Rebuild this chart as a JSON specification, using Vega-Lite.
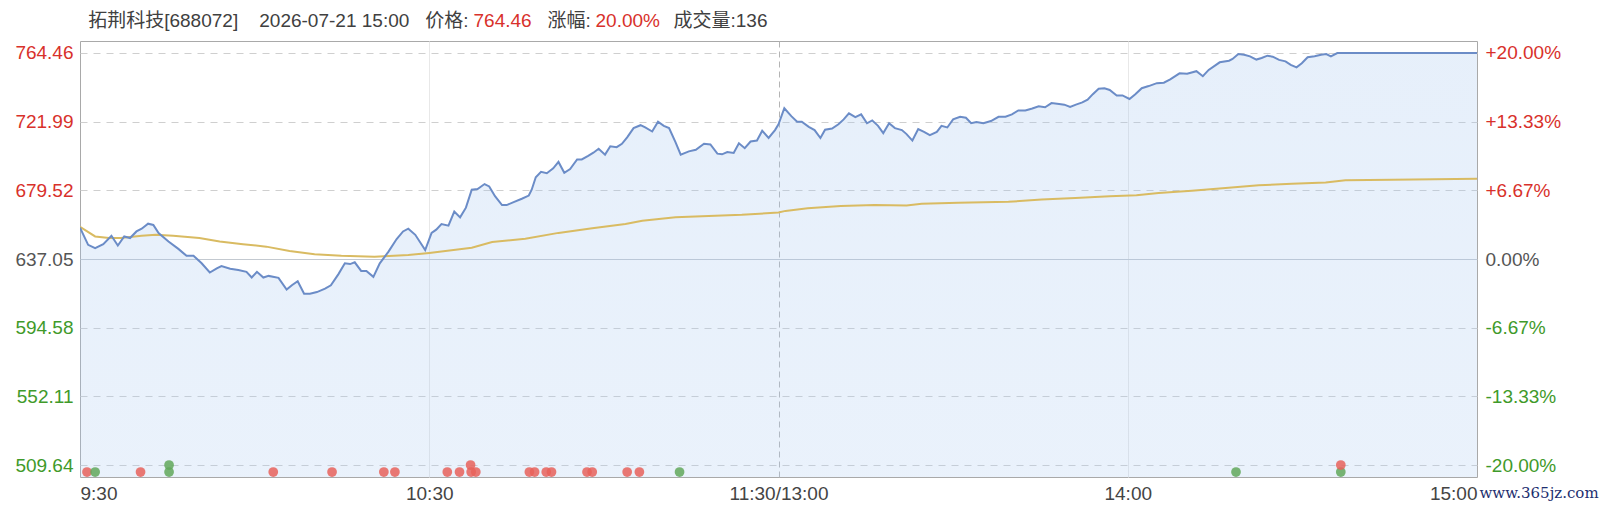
{
  "$schema": "https://vega.github.io/schema/vega-lite/v6.json",
  "width": 1397,
  "height": 436,
  "autosize": {"type": "none"},
  "padding": {"left": 80, "top": 41, "right": 123, "bottom": 35},
  "background": "white",
  "config": {
    "view": {"stroke": "#a9a9a9", "strokeWidth": 1},
    "axis": {
      "domain": false,
      "ticks": false,
      "labelFont": "Liberation Sans",
      "labelFontSize": 19,
      "titleFont": "Liberation Sans, Noto Sans CJK SC",
      "titleFontSize": 19,
      "titleFontWeight": "normal"
    }
  },
  "datasets": {
    "price": [
      {"t": 0, "p": 656.5}, {"t": 1.4, "p": 645.8}, {"t": 2.6, "p": 643.7}, {"t": 4.0, "p": 646.2},
      {"t": 5.4, "p": 651.4}, {"t": 6.5, "p": 645.4}, {"t": 7.6, "p": 651.0}, {"t": 8.6, "p": 650.0},
      {"t": 9.7, "p": 654.1}, {"t": 10.6, "p": 655.8}, {"t": 11.7, "p": 658.9}, {"t": 12.6, "p": 658.1},
      {"t": 13.5, "p": 653.1}, {"t": 15.2, "p": 647.9}, {"t": 16.9, "p": 643.3}, {"t": 18.3, "p": 639.0},
      {"t": 19.5, "p": 639.1}, {"t": 20.9, "p": 634.4}, {"t": 22.3, "p": 628.7}, {"t": 23.5, "p": 631.2},
      {"t": 24.3, "p": 632.7}, {"t": 25.8, "p": 631.0}, {"t": 27.2, "p": 630.2}, {"t": 28.6, "p": 629.1},
      {"t": 29.5, "p": 625.6}, {"t": 30.4, "p": 629.1}, {"t": 31.5, "p": 625.6}, {"t": 32.4, "p": 626.6},
      {"t": 34.1, "p": 625.4}, {"t": 35.5, "p": 618.1}, {"t": 36.4, "p": 620.8}, {"t": 37.4, "p": 623.3},
      {"t": 38.5, "p": 615.6}, {"t": 39.5, "p": 615.6}, {"t": 40.7, "p": 616.6}, {"t": 42.1, "p": 618.7},
      {"t": 43.1, "p": 620.8}, {"t": 44.4, "p": 627.7}, {"t": 45.5, "p": 634.4}, {"t": 46.4, "p": 633.9},
      {"t": 47.2, "p": 635.0}, {"t": 48.3, "p": 629.7}, {"t": 49.2, "p": 629.7}, {"t": 50.4, "p": 626.0},
      {"t": 51.5, "p": 634.4}, {"t": 53.0, "p": 641.6}, {"t": 54.4, "p": 649.4}, {"t": 55.5, "p": 654.1},
      {"t": 56.4, "p": 655.8}, {"t": 57.6, "p": 652.0}, {"t": 59.3, "p": 642.6}, {"t": 60.4, "p": 653.2},
      {"t": 61.2, "p": 655.2}, {"t": 62.1, "p": 658.7}, {"t": 63.3, "p": 657.7}, {"t": 64.3, "p": 666.4},
      {"t": 65.3, "p": 662.8}, {"t": 66.3, "p": 668.8}, {"t": 67.3, "p": 679.9}, {"t": 68.3, "p": 680.3},
      {"t": 69.5, "p": 683.4}, {"t": 70.3, "p": 681.9}, {"t": 71.3, "p": 675.9}, {"t": 72.5, "p": 670.4},
      {"t": 73.3, "p": 670.4}, {"t": 74.5, "p": 672.2}, {"t": 75.9, "p": 674.3}, {"t": 77.1, "p": 676.3},
      {"t": 77.6, "p": 679.9}, {"t": 78.3, "p": 687.6}, {"t": 79.2, "p": 691.0}, {"t": 80.2, "p": 690.1},
      {"t": 81.3, "p": 693.1}, {"t": 82.2, "p": 697.1}, {"t": 83.2, "p": 690.4}, {"t": 84.2, "p": 692.7},
      {"t": 85.4, "p": 698.6}, {"t": 86.2, "p": 698.6}, {"t": 87.3, "p": 700.8}, {"t": 88.2, "p": 702.8},
      {"t": 89.1, "p": 705.2}, {"t": 90.2, "p": 701.6}, {"t": 91.1, "p": 706.8}, {"t": 92.2, "p": 706.2},
      {"t": 93.1, "p": 708.3}, {"t": 94.0, "p": 712.3}, {"t": 95.1, "p": 718.0}, {"t": 96.3, "p": 719.8},
      {"t": 97.1, "p": 718.4}, {"t": 98.3, "p": 715.9}, {"t": 99.3, "p": 722.0}, {"t": 100.3, "p": 719.4},
      {"t": 101.2, "p": 718.0}, {"t": 102.3, "p": 709.3}, {"t": 103.2, "p": 701.6}, {"t": 104.6, "p": 703.6},
      {"t": 105.8, "p": 704.6}, {"t": 107.2, "p": 708.3}, {"t": 108.3, "p": 707.9}, {"t": 109.5, "p": 702.2},
      {"t": 110.3, "p": 701.8}, {"t": 111.2, "p": 703.2}, {"t": 112.3, "p": 702.6}, {"t": 113.2, "p": 708.6},
      {"t": 114.2, "p": 705.6}, {"t": 115.2, "p": 709.7}, {"t": 116.3, "p": 710.3}, {"t": 117.2, "p": 716.4},
      {"t": 118.3, "p": 711.9}, {"t": 119.4, "p": 716.8}, {"t": 120.0, "p": 720.4}, {"t": 121.0, "p": 730.3},
      {"t": 122.2, "p": 725.4}, {"t": 123.2, "p": 722.0}, {"t": 124.0, "p": 722.0}, {"t": 125.2, "p": 718.8},
      {"t": 126.2, "p": 716.8}, {"t": 127.2, "p": 711.9}, {"t": 128.0, "p": 717.0}, {"t": 129.2, "p": 717.7},
      {"t": 130.3, "p": 720.4}, {"t": 131.2, "p": 723.4}, {"t": 132.1, "p": 727.1}, {"t": 133.2, "p": 724.8},
      {"t": 134.2, "p": 726.5}, {"t": 135.2, "p": 721.0}, {"t": 136.1, "p": 722.8}, {"t": 137.1, "p": 719.4},
      {"t": 138.0, "p": 714.9}, {"t": 139.0, "p": 721.0}, {"t": 140.0, "p": 718.0}, {"t": 141.2, "p": 716.8},
      {"t": 142.0, "p": 714.3}, {"t": 143.0, "p": 710.3}, {"t": 144.0, "p": 717.4}, {"t": 145.0, "p": 715.7},
      {"t": 146.0, "p": 713.7}, {"t": 147.2, "p": 715.7}, {"t": 148.0, "p": 719.4}, {"t": 149.0, "p": 718.4},
      {"t": 150.0, "p": 723.4}, {"t": 151.2, "p": 725.0}, {"t": 152.2, "p": 724.4}, {"t": 153.1, "p": 721.0},
      {"t": 154.0, "p": 721.8}, {"t": 155.2, "p": 721.0}, {"t": 156.5, "p": 722.4}, {"t": 157.8, "p": 725.0},
      {"t": 159.0, "p": 725.0}, {"t": 160.1, "p": 726.5}, {"t": 161.2, "p": 728.9}, {"t": 162.4, "p": 728.9},
      {"t": 163.6, "p": 730.1}, {"t": 164.7, "p": 731.5}, {"t": 165.8, "p": 730.9}, {"t": 166.9, "p": 733.5},
      {"t": 168.2, "p": 732.9}, {"t": 169.1, "p": 732.5}, {"t": 170.1, "p": 731.1}, {"t": 171.1, "p": 732.5},
      {"t": 172.2, "p": 733.9}, {"t": 173.1, "p": 735.6}, {"t": 174.0, "p": 739.0}, {"t": 175.0, "p": 742.3},
      {"t": 176.0, "p": 742.6}, {"t": 176.9, "p": 741.6}, {"t": 178.1, "p": 738.2}, {"t": 179.1, "p": 738.2},
      {"t": 180.3, "p": 736.0}, {"t": 181.3, "p": 738.9}, {"t": 182.4, "p": 742.7}, {"t": 183.6, "p": 744.0},
      {"t": 185.0, "p": 745.8}, {"t": 186.2, "p": 746.1}, {"t": 187.3, "p": 748.1}, {"t": 188.9, "p": 751.9},
      {"t": 190.2, "p": 751.6}, {"t": 191.8, "p": 753.2}, {"t": 192.9, "p": 750.1}, {"t": 193.9, "p": 754.0},
      {"t": 195.8, "p": 758.7}, {"t": 197.4, "p": 759.7}, {"t": 198.0, "p": 760.8}, {"t": 199.0, "p": 763.8},
      {"t": 200.0, "p": 763.4}, {"t": 201.0, "p": 762.4}, {"t": 202.1, "p": 760.4}, {"t": 203.0, "p": 761.4},
      {"t": 204.0, "p": 762.8}, {"t": 204.9, "p": 762.2}, {"t": 206.0, "p": 760.2}, {"t": 207.1, "p": 759.3},
      {"t": 208.0, "p": 757.1}, {"t": 209.0, "p": 755.6}, {"t": 209.9, "p": 758.1}, {"t": 210.9, "p": 761.8},
      {"t": 212.1, "p": 762.4}, {"t": 213.2, "p": 763.4}, {"t": 214.1, "p": 763.8}, {"t": 214.9, "p": 762.4},
      {"t": 216.0, "p": 764.46}, {"t": 220.0, "p": 764.46}, {"t": 225.0, "p": 764.46}, {"t": 230.0, "p": 764.46},
      {"t": 235.0, "p": 764.46}, {"t": 240.0, "p": 764.46}
    ],
    "avg": [
      {"t": 0, "p": 657.0}, {"t": 2.6, "p": 651.0}, {"t": 5.0, "p": 650.0}, {"t": 7.0, "p": 650.0},
      {"t": 10.6, "p": 651.4}, {"t": 13.0, "p": 652.0}, {"t": 16.0, "p": 651.4}, {"t": 20.5, "p": 650.0},
      {"t": 24.0, "p": 647.9}, {"t": 28.0, "p": 646.2}, {"t": 32.0, "p": 644.7}, {"t": 36.0, "p": 642.0},
      {"t": 40.3, "p": 640.0}, {"t": 44.9, "p": 639.0}, {"t": 50.6, "p": 638.5}, {"t": 56.4, "p": 639.5},
      {"t": 60.0, "p": 640.8}, {"t": 67.3, "p": 644.0}, {"t": 70.8, "p": 647.6}, {"t": 76.5, "p": 649.6},
      {"t": 82.2, "p": 653.2}, {"t": 88.0, "p": 656.1}, {"t": 93.7, "p": 658.7}, {"t": 96.6, "p": 660.7},
      {"t": 102.3, "p": 662.8}, {"t": 108.0, "p": 663.7}, {"t": 113.7, "p": 664.4}, {"t": 120.0, "p": 665.8},
      {"t": 121.2, "p": 666.8}, {"t": 125.0, "p": 668.4}, {"t": 130.7, "p": 669.8}, {"t": 136.5, "p": 670.4},
      {"t": 142.0, "p": 670.2}, {"t": 144.6, "p": 671.2}, {"t": 150.9, "p": 671.8}, {"t": 159.5, "p": 672.4},
      {"t": 165.2, "p": 673.8}, {"t": 171.0, "p": 674.8}, {"t": 176.9, "p": 675.8}, {"t": 181.5, "p": 676.5},
      {"t": 185.3, "p": 677.9}, {"t": 191.0, "p": 679.3}, {"t": 196.8, "p": 680.9}, {"t": 202.5, "p": 682.6},
      {"t": 208.2, "p": 683.6}, {"t": 214.0, "p": 684.4}, {"t": 217.4, "p": 685.7}, {"t": 225.4, "p": 686.1},
      {"t": 240.0, "p": 686.7}
    ],
    "trades": [
      {"t": 1.2, "lvl": 505.3, "side": "buy"},
      {"t": 2.6, "lvl": 505.3, "side": "sell"},
      {"t": 10.4, "lvl": 505.3, "side": "buy"},
      {"t": 15.3, "lvl": 509.64, "side": "sell"},
      {"t": 15.3, "lvl": 505.3, "side": "sell"},
      {"t": 33.2, "lvl": 505.3, "side": "buy"},
      {"t": 43.3, "lvl": 505.3, "side": "buy"},
      {"t": 52.2, "lvl": 505.3, "side": "buy"},
      {"t": 54.1, "lvl": 505.3, "side": "buy"},
      {"t": 63.1, "lvl": 505.3, "side": "buy"},
      {"t": 65.2, "lvl": 505.3, "side": "buy"},
      {"t": 67.1, "lvl": 509.64, "side": "buy"},
      {"t": 67.2, "lvl": 505.3, "side": "buy"},
      {"t": 68.0, "lvl": 505.3, "side": "buy"},
      {"t": 77.2, "lvl": 505.3, "side": "buy"},
      {"t": 78.1, "lvl": 505.3, "side": "buy"},
      {"t": 80.1, "lvl": 505.3, "side": "buy"},
      {"t": 81.0, "lvl": 505.3, "side": "buy"},
      {"t": 87.1, "lvl": 505.3, "side": "buy"},
      {"t": 88.0, "lvl": 505.3, "side": "buy"},
      {"t": 94.0, "lvl": 505.3, "side": "buy"},
      {"t": 96.1, "lvl": 505.3, "side": "buy"},
      {"t": 103.0, "lvl": 505.3, "side": "sell"},
      {"t": 198.6, "lvl": 505.3, "side": "sell"},
      {"t": 216.6, "lvl": 505.3, "side": "sell"},
      {"t": 216.6, "lvl": 509.64, "side": "buy"}
    ]
  },
  "resolve": {"axis": {"x": "independent", "y": "independent"}},
  "layer": [
    {
      "data": {"name": "price"},
      "mark": {
        "type": "area",
        "clip": true,
        "color": {
          "gradient": "linear",
          "x1": 0, "y1": 0, "x2": 0, "y2": 1,
          "stops": [
            {"offset": 0, "color": "rgba(160,195,238,0.26)"},
            {"offset": 1, "color": "rgba(185,212,245,0.22)"}
          ]
        }
      },
      "encoding": {
        "x": {
          "field": "t",
          "type": "quantitative",
          "scale": {"domain": [0, 240], "nice": false, "zero": false},
          "axis": {
            "orient": "bottom",
            "values": [0, 60, 120, 180, 240],
            "labelExpr": "datum.value == 0 ? '9:30' : datum.value == 60 ? '10:30' : datum.value == 120 ? '11:30/13:00' : datum.value == 180 ? '14:00' : '15:00'",
            "labelFlush": true,
            "labelOverlap": false,
            "labelPadding": 7,
            "labelColor": "#444444",
            "grid": true,
            "gridColor": {
              "condition": [
                {"test": "datum.value == 120", "value": "#b4b4b4"},
                {"test": "datum.value == 0 || datum.value == 240", "value": "rgba(0,0,0,0)"}
              ],
              "value": "#e8e8e8"
            },
            "gridDash": {"condition": {"test": "datum.value == 120", "value": [6, 4]}, "value": []},
            "title": "www.365jz.com",
            "titleX": 1399,
            "titleY": 15,
            "titleAngle": 0,
            "titleAlign": "left",
            "titleBaseline": "middle",
            "titleFont": "DejaVu Serif",
            "titleFontSize": 15,
            "titleColor": "#1d2f6f"
          }
        },
        "y": {
          "field": "p",
          "type": "quantitative",
          "scale": {"domain": [502.22, 771.88], "nice": false, "zero": false},
          "axis": {
            "orient": "left",
            "values": [509.64, 552.11, 594.58, 637.05, 679.52, 721.99, 764.46],
            "format": ".2f",
            "labelPadding": 7,
            "labelColor": {
              "condition": [
                {"test": "datum.value > 637.06", "value": "#d8312b"},
                {"test": "datum.value < 637.04", "value": "#3f9a2a"}
              ],
              "value": "#555555"
            },
            "grid": true,
            "gridColor": {"condition": {"test": "datum.value == 637.05", "value": "#c3c9d0"}, "value": "#cfcfcf"},
            "gridDash": {"condition": {"test": "datum.value == 637.05", "value": []}, "value": [7, 6]},
            "title": "拓荆科技[688072]\u00a0\u00a0\u00a0\u00a02026-07-21 15:00\u00a0\u00a0\u00a0价格:",
            "titleX": 7.7,
            "titleY": -20.3,
            "titleAngle": 0,
            "titleAlign": "left",
            "titleBaseline": "middle",
            "titleColor": "#404040"
          }
        }
      }
    },
    {
      "data": {"name": "avg"},
      "mark": {"type": "line", "color": "#d9bb62", "strokeWidth": 2, "clip": true},
      "encoding": {
        "x": {"field": "t", "type": "quantitative", "scale": {"domain": [0, 240], "nice": false, "zero": false}, "axis": null},
        "y": {
          "field": "p",
          "type": "quantitative",
          "scale": {"domain": [502.22, 771.88], "nice": false, "zero": false},
          "axis": {
            "orient": "right",
            "values": [509.64, 552.11, 594.58, 637.05, 679.52, 721.99, 764.46],
            "labelExpr": "(datum.value > 637.06 ? '+' : '') + replace(format((datum.value / 637.05 - 1) * 100, '.2f'), '−', '-') + '%'",
            "labelPadding": 8,
            "labelColor": {
              "condition": [
                {"test": "datum.value > 637.06", "value": "#d8312b"},
                {"test": "datum.value < 637.04", "value": "#3f9a2a"}
              ],
              "value": "#555555"
            },
            "grid": false,
            "title": "20.00%",
            "titleX": -882,
            "titleY": -20.3,
            "titleAngle": 0,
            "titleAlign": "left",
            "titleBaseline": "middle",
            "titleColor": "#d8312b"
          }
        }
      }
    },
    {
      "data": {"name": "price"},
      "mark": {"type": "line", "color": "#6b8cc7", "strokeWidth": 2, "clip": true},
      "encoding": {
        "x": {"field": "t", "type": "quantitative", "scale": {"domain": [0, 240], "nice": false, "zero": false}, "axis": null},
        "y": {
          "field": "p",
          "type": "quantitative",
          "scale": {"domain": [502.22, 771.88], "nice": false, "zero": false},
          "axis": {
            "orient": "right",
            "labels": false,
            "grid": false,
            "title": "764.46",
            "titleX": -1004,
            "titleY": -20.3,
            "titleAngle": 0,
            "titleAlign": "left",
            "titleBaseline": "middle",
            "titleColor": "#d8312b"
          }
        }
      }
    },
    {
      "data": {"name": "trades"},
      "mark": {"type": "circle", "size": 95, "opacity": 0.85},
      "encoding": {
        "x": {
          "field": "t",
          "type": "quantitative",
          "scale": {"domain": [0, 240], "nice": false, "zero": false},
          "axis": {
            "orient": "top",
            "labels": false,
            "grid": false,
            "title": "成交量:136",
            "titleX": 593,
            "titleY": -20.3,
            "titleAngle": 0,
            "titleAlign": "left",
            "titleBaseline": "middle",
            "titleColor": "#404040"
          }
        },
        "y": {
          "field": "lvl",
          "type": "quantitative",
          "scale": {"domain": [502.22, 771.88], "nice": false, "zero": false},
          "axis": {
            "orient": "left",
            "labels": false,
            "grid": false,
            "title": "涨幅:",
            "titleX": 467,
            "titleY": -20.3,
            "titleAngle": 0,
            "titleAlign": "left",
            "titleBaseline": "middle",
            "titleColor": "#404040"
          }
        },
        "color": {
          "field": "side",
          "type": "nominal",
          "scale": {"domain": ["buy", "sell"], "range": ["#e8625a", "#62a85a"]},
          "legend": null
        }
      }
    }
  ]
}
